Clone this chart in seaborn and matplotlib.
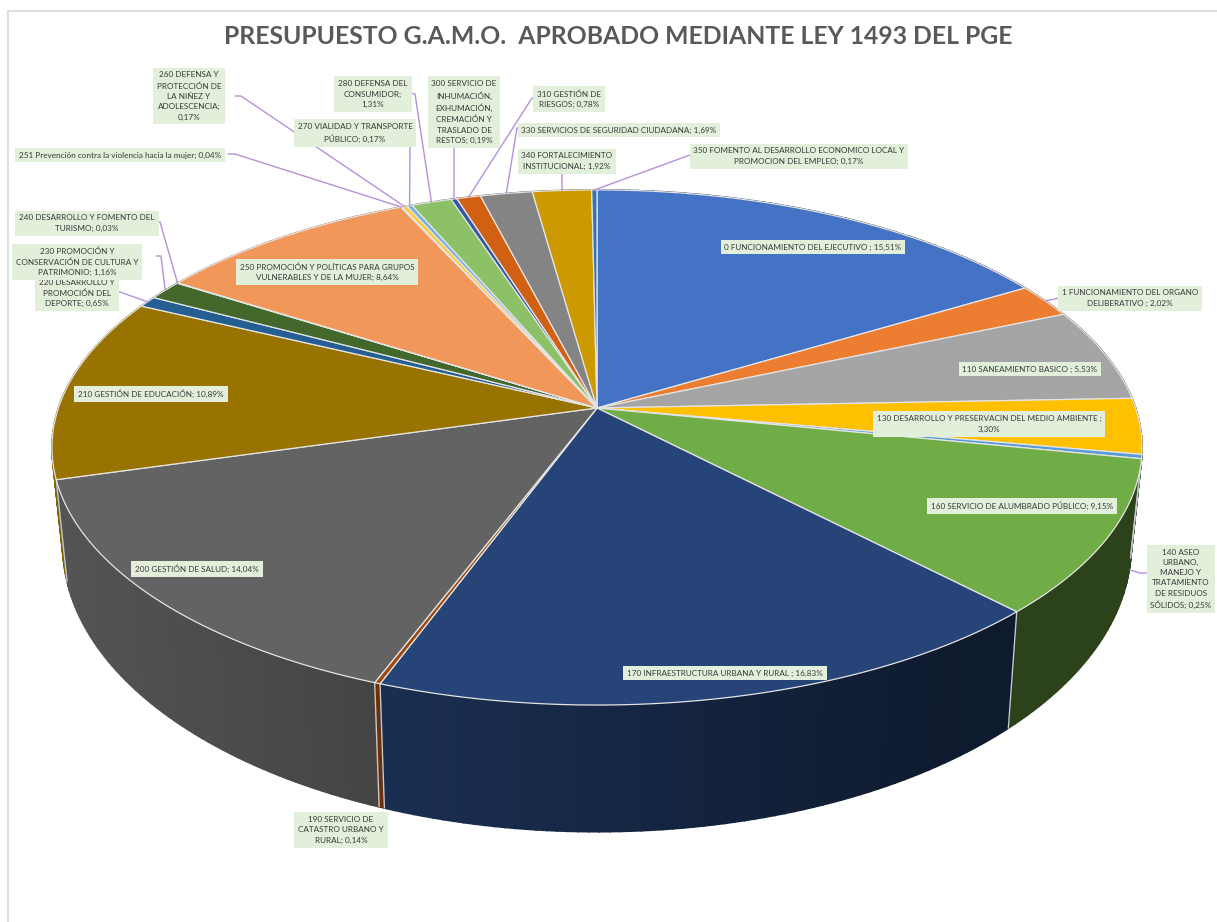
import numpy as np
import seaborn as sns
import matplotlib.pyplot as plt

# chart values, clockwise from the top of the pie
categories = ["0 FUNCIONAMIENTO DEL EJECUTIVO ; 15,51%",
              "1 FUNCIONAMIENTO DEL ORGANO\nDELIBERATIVO ; 2,02%",
              "110 SANEAMIENTO BASICO ; 5,53%",
              "130 DESARROLLO Y PRESERVACIN DEL MEDIO AMBIENTE ;\n3,30%",
              "140 ASEO\nURBANO,\nMANEJO Y\nTRATAMIENTO\nDE RESIDUOS\nSÓLIDOS; 0,25%",
              "160 SERVICIO DE ALUMBRADO PÚBLICO; 9,15%",
              "170 INFRAESTRUCTURA URBANA Y RURAL ; 16,83%",
              "190 SERVICIO DE\nCATASTRO URBANO Y\nRURAL; 0,14%",
              "200 GESTIÓN DE SALUD; 14,04%",
              "210 GESTIÓN DE EDUCACIÓN; 10,89%",
              "220 DESARROLLO Y\nPROMOCIÓN DEL\nDEPORTE; 0,65%",
              "230 PROMOCIÓN Y\nCONSERVACIÓN DE CULTURA Y\nPATRIMONIO; 1,16%",
              "240 DESARROLLO Y FOMENTO DEL\nTURISMO; 0,03%",
              "250 PROMOCIÓN Y POLÍTICAS PARA GRUPOS\nVULNERABLES Y DE LA MUJER; 8,64%",
              "251 Prevención contra la violencia hacia la mujer; 0,04%",
              "260 DEFENSA Y\nPROTECCIÓN DE\nLA NIÑEZ Y\nADOLESCENCIA;\n0,17%",
              "270 VIALIDAD Y TRANSPORTE\nPÚBLICO; 0,17%",
              "280 DEFENSA DEL\nCONSUMIDOR;\n1,31%",
              "300 SERVICIO DE\nINHUMACIÓN,\nEXHUMACIÓN,\nCREMACIÓN Y\nTRASLADO DE\nRESTOS; 0,19%",
              "310 GESTIÓN DE\nRIESGOS; 0,78%",
              "330 SERVICIOS DE SEGURIDAD CIUDADANA; 1,69%",
              "340 FORTALECIMIENTO\nINSTITUCIONAL; 1,92%",
              "350 FOMENTO AL DESARROLLO ECONOMICO LOCAL Y\nPROMOCION DEL EMPLEO; 0,17%"]
values = [15.51, 2.02, 5.53, 3.30, 0.25, 9.15, 16.83, 0.14, 14.04, 10.89, 0.65, 1.16,
          0.03, 8.64, 0.04, 0.17, 0.17, 1.31, 0.19, 0.78, 1.69, 1.92, 0.17]
colors = ["#4472C4", "#ED7D31", "#A5A5A5", "#FFC000", "#5B9BD5", "#70AD47", "#264478",
          "#9E480E", "#636363", "#997300", "#255E91", "#43682B", "#698ED0", "#F1975A",
          "#B7B7B7", "#FFCD33", "#7CAFDD", "#8CC168", "#335AA1", "#D26012", "#848484",
          "#CC9A00", "#2E75B6"]

# label box centres in figure pixels, same order as categories
label_x = [813, 1130, 1030, 989, 1181, 1022, 725, 341, 197, 151, 77, 77,
           87, 327, 120, 189, 355, 373, 464, 569, 619, 567, 799]
label_y = [247, 298, 369, 424, 579, 506, 673, 830, 569, 394, 293, 262,
           223, 272, 155, 96, 133, 94, 112, 99, 130, 161, 156]
# leader elbows in figure pixels, the last point is the wedge rim
leaders = {4: [(1148, 573), (1140, 573)],
           1: [(1062, 297), (1055, 299)],
           10: [(116, 292), (120, 292)],
           11: [(156, 256), (161, 256)],
           12: [(156, 222), (160, 222)],
           14: [(228, 154), (235, 154)],
           15: [(235, 96), (241, 96)],
           16: [(410, 146)],
           17: [(410, 93), (415, 94)],
           18: [(454, 147)],
           19: [(535, 98), (532, 98)],
           20: [(522, 128), (517, 128)],
           21: [(562, 174)],
           22: [(696, 155), (690, 155)]}

# perspective of the disc
cx, cy = 597, 408
a, b, k = 538.6, 251.5, 0.1533
wall_sx, wall_sy, wall_cy = 0.98, 1.11, 502


def top_rim(theta):
    x = np.sin(theta)
    y = -np.cos(theta)
    w = 1 - k * y
    return cx + a * x / w, cy + b * y / w


def bottom_rim(theta):
    x, y = top_rim(theta)
    return cx + wall_sx * (x - cx), wall_cy + wall_sy * (y - cy)


def wall_color(color, x):
    f = np.clip(0.85 - (x - 65) * 0.5 / 950, 0.38, 0.9)
    return np.array(sns.desaturate(color, 1)) * f


sns.set_theme(style="white")
plt.rcParams['font.family'] = ['Lato', 'DejaVu Sans']

fig, ax = plt.subplots(figsize=(12.17, 9.22), dpi=100)
fig.subplots_adjust(0, 0, 1, 1)
ax.set_xlim(0, 1217)
ax.set_ylim(922, 0)
ax.set_xticks([])
ax.set_yticks([])
sns.despine(ax=ax, left=True, bottom=True)

# chart frame
ax.plot([8, 8, 1217], [922, 11, 11], color="#D9D9D9", lw=1.2)

edges = np.concatenate([[0], np.cumsum(values)]) / np.sum(values) * 2 * np.pi

# side walls, back to front
quads = []
for i, color in enumerate(colors):
    th = np.linspace(edges[i], edges[i + 1], max(2, int((edges[i + 1] - edges[i]) * 60)))
    for t0, t1 in zip(th[:-1], th[1:]):
        tx0, ty0 = top_rim(t0)
        tx1, ty1 = top_rim(t1)
        bx0, by0 = bottom_rim(t0)
        bx1, by1 = bottom_rim(t1)
        quads.append(((ty0 + ty1) / 2, [tx0, tx1, bx1, bx0], [ty0, ty1, by1, by0], color))
quads.sort(key=lambda q: q[0])
for _, qx, qy, color in quads:
    c = wall_color(color, np.mean(qx))
    ax.fill(qx, qy, color=c, lw=1.2, zorder=2)

# light seams on the front of the wall
for i in range(len(colors)):
    t = edges[i]
    tx, ty = top_rim(t)
    if -np.cos(t) > 0:
        bx, by = bottom_rim(t)
        ax.plot([tx, bx], [ty, by], color="#C8C8C8", lw=1, zorder=3)

# top face
for i, color in enumerate(colors):
    th = np.linspace(edges[i], edges[i + 1], max(2, int((edges[i + 1] - edges[i]) * 120)))
    rx, ry = top_rim(th)
    ax.fill(np.r_[cx, rx], np.r_[cy, ry], facecolor=color, edgecolor="#E4E4E4", lw=0.9, zorder=4)

# leader lines
for i, pts in leaders.items():
    mid = (edges[i] + edges[i + 1]) / 2
    ex, ey = top_rim(mid)
    if i == 4:
        ex, ey = 1130, 570
    xs = [p[0] for p in pts] + [ex]
    ys = [p[1] for p in pts] + [ey]
    ax.plot(xs, ys, color="#B790DA", lw=1, zorder=5)

# data labels, 220 goes under 230
order = [i for i in range(len(categories)) if i != 11] + [11]
for z, i in enumerate(order):
    ax.text(label_x[i], label_y[i], categories[i], ha="center", va="center", multialignment="center",
            fontsize=5.9, color="#3A3A3A", linespacing=1.55, zorder=6 + z * 0.01,
            bbox=dict(facecolor="#E2EFDA", edgecolor="none", pad=2.8))

ax.text(618.5, 37, "PRESUPUESTO G.A.M.O.  APROBADO MEDIANTE LEY 1493 DEL PGE", ha="center", va="center",
        fontsize=17.85, fontweight="bold", color="#595959", zorder=7)

fig.savefig("out.png", dpi=100)
